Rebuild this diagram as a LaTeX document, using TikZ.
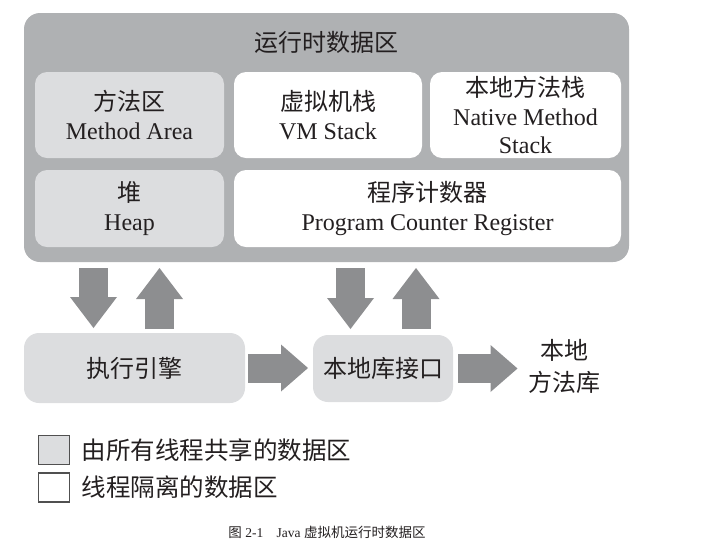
\documentclass[tikz,border=0pt]{standalone}
\usepackage{fontspec}
\setmainfont{Liberation Serif}
\newfontfamily\cjk{Noto Sans CJK SC}
\usetikzlibrary{arrows.meta}

\definecolor{outergray}{HTML}{AFB1B3}
\definecolor{sharedgray}{HTML}{DCDDDF}
\definecolor{arrowgray}{HTML}{8D8E90}
\definecolor{ink}{HTML}{231F20}
\definecolor{framegray}{HTML}{505050}

\tikzset{
  region/.style={fill=outergray, rounded corners=16pt},
  shared/.style={fill=sharedgray, rounded corners=12pt},
  private/.style={fill=white, rounded corners=12pt},
  label/.style={font=\fontsize{24}{28.5}\selectfont, align=center},
  block/.style={draw=arrowgray, line width=29pt,
    -{Triangle[length=31pt,width=47pt,line width=0pt]}},
  hblock/.style={draw=arrowgray, line width=29pt,
    -{Triangle[length=27pt,width=47pt,line width=0pt]}},
  key/.style={draw=framegray, line width=1.4pt, minimum width=31pt, minimum height=29pt},
}

\begin{document}
\begin{tikzpicture}[x=1pt, y=-1pt,
  every node/.style={inner sep=0pt, outer sep=0pt, text=ink}]
\useasboundingbox (0,0) rectangle (710,542);

% runtime data area
\node[region, minimum width=605pt, minimum height=249pt] (rda) at (326.5,137.5) {};
\node[label] (title) at (326.5,42) {\cjk 运行时数据区};

\node[shared, label, minimum width=189pt, minimum height=86pt] (ma) at (129.5,115)
  {{\cjk 方法区}\\Method Area};
\node[private, label, minimum width=188pt, minimum height=86pt] (vm) at (328,115)
  {{\cjk 虚拟机栈}\\VM Stack};
\node[private, label, minimum width=191pt, minimum height=86pt] (ns) at (525.5,115)
  {{\cjk 本地方法栈}\\Native Method\\Stack};
\node[shared, label, minimum width=189pt, minimum height=77pt] (heap) at (129.5,208.5)
  {{\cjk 堆}\\Heap};
\node[private, label, minimum width=387pt, minimum height=77pt] (pc) at (427.5,208.5)
  {{\cjk 程序计数器}\\Program Counter Register};

% execution engine and native interface
\node[shared, label, rounded corners=15pt, minimum width=221pt, minimum height=70pt] (engine)
  at (134.5,368) {\cjk 执行引擎};
\node[shared, label, rounded corners=15pt, minimum width=140pt, minimum height=67pt] (iface)
  at (383,368.5) {\cjk 本地库接口};
\node[font=\cjk\fontsize{24}{32}\selectfont, align=center] (lib) at (564.5,366.5)
  {本地\\方法库};

% block arrows
\coordinate (d1) at ([xshift=-41pt]engine.north);
\coordinate (u1) at ([xshift=25pt]engine.north);
\coordinate (d2) at ([xshift=-32.5pt]iface.north);
\coordinate (u2) at ([xshift=33pt]iface.north);

\draw[block, shorten <=6pt, shorten >=5pt] (rda.south -| d1) -- (d1);
\draw[block, shorten <=4pt, shorten >=6pt] (u1) -- (rda.south -| u1);
\draw[block, shorten <=6pt, shorten >=6pt] (rda.south -| d2) -- (d2);
\draw[block, shorten <=6pt, shorten >=6pt] (u2) -- (rda.south -| u2);

\draw[hblock, shorten <=3pt, shorten >=5pt] (engine.east) -- (engine.east -| iface.west);
\draw[hblock, shorten <=5pt, shorten >=11pt] (iface.east) -- (iface.east -| lib.west);

% legend
\node[key, fill=sharedgray] (k1) at (54,450) {};
\node[key, fill=white] (k2) at (54,487.5) {};
\node[font=\cjk\fontsize{24.5}{28}\selectfont, anchor=west] (k1t) at ([xshift=12pt]k1.east)
  {由所有线程共享的数据区};
\node[font=\cjk\fontsize{24.5}{28}\selectfont, anchor=west] (k2t) at ([xshift=12pt]k2.east)
  {线程隔离的数据区};

% caption
\node[font=\fontsize{13.5}{16}\selectfont] (cap) at (327,532)
  {{\cjk 图} 2-1\quad Java {\cjk 虚拟机运行时数据区}};
\end{tikzpicture}
\end{document}
